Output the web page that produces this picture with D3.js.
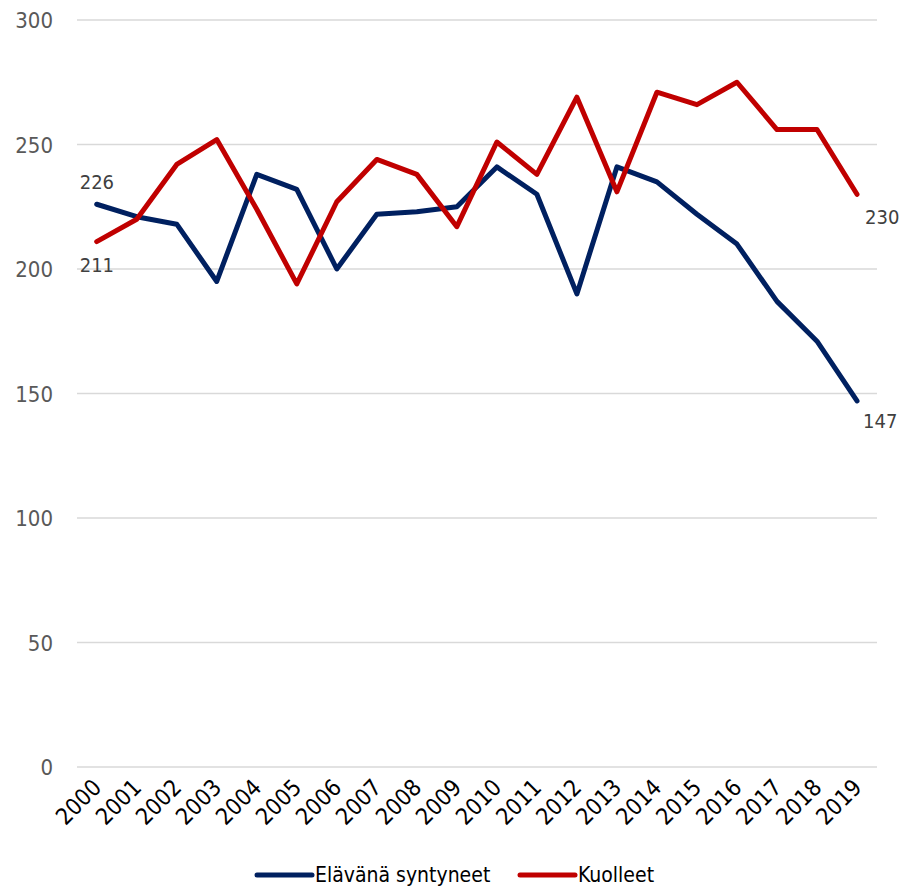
<!DOCTYPE html>
<html>
<head>
  <meta charset="UTF-8">
  <style>
    body { margin: 0; background: #fff; }
    svg text { font-family: "DejaVu Sans Condensed", "DejaVu Sans", sans-serif; }
  </style>
</head>
<body>
<svg></svg>
<script src="https://d3js.org/d3.v7.min.js"></script>
<script>
let width = 912, height = 886;

// data
let years = ["2000","2001","2002","2003","2004","2005","2006","2007","2008","2009",
             "2010","2011","2012","2013","2014","2015","2016","2017","2018","2019"];
let births = [226, 221, 218, 195, 238, 232, 200, 222, 223, 225,
              241, 230, 190, 241, 235, 222, 210, 187, 171, 147];
let deaths = [211, 220, 242, 252, 224, 194, 227, 244, 238, 217,
              251, 238, 269, 231, 271, 266, 275, 256, 256, 230];
let yTicks = [0, 50, 100, 150, 200, 250, 300];
let seriesNames = ["Elävänä syntyneet", "Kuolleet"];
let seriesColors = ["#002060", "#C00000"];

let svg = d3.select("svg")
    .attr("width", width)
    .attr("height", height);

let x = d3.scalePoint().domain(years).range([96.7, 857]);
let y = d3.scaleLinear().domain([0, 300]).range([767, 20]);

// gridlines
svg.append("g")
    .selectAll("line")
    .data(yTicks)
    .enter()
    .append("line")
    .attr("x1", 77).attr("x2", 877)
    .attr("y1", d => y(d)).attr("y2", d => y(d))
    .attr("stroke", "#d9d9d9")
    .attr("stroke-width", 1.5);

// y labels
svg.append("g")
    .selectAll("text")
    .data(yTicks)
    .enter()
    .append("text")
    .attr("x", 53)
    .attr("y", d => y(d) + 8)
    .attr("text-anchor", "end")
    .attr("fill", "#595959")
    .style("font-size", "22px")
    .text(d => d);

// x labels, rotated
svg.append("g")
    .selectAll("text")
    .data(years)
    .enter()
    .append("text")
    .attr("text-anchor", "end")
    .attr("transform", d => "translate(" + (x(d) + 6) + ",789) rotate(-45)")
    .attr("fill", "#000")
    .style("font-size", "23px")
    .text(d => d);

// lines
let line = d3.line()
    .x((d, i) => x(years[i]))
    .y(d => y(d));

[births, deaths].forEach((s, k) => {
    svg.append("path")
        .datum(s)
        .attr("fill", "none")
        .attr("stroke", seriesColors[k])
        .attr("stroke-width", 5)
        .attr("stroke-linejoin", "round")
        .attr("stroke-linecap", "round")
        .attr("d", line);
});

// data labels (first and last)
let n = years.length - 1;
let labels = [
    {v: births[0], i: 0, dx: -17, dy: -15},
    {v: deaths[0], i: 0, dx: -17, dy: 30},
    {v: deaths[n], i: n, dx: 8, dy: 30},
    {v: births[n], i: n, dx: 6, dy: 27}
];
svg.append("g")
    .selectAll("text")
    .data(labels)
    .enter()
    .append("text")
    .attr("x", d => x(years[d.i]) + d.dx)
    .attr("y", d => y(d.v) + d.dy)
    .attr("fill", "#404040")
    .style("font-size", "20px")
    .text(d => d.v);

// legend
let legendX = [257, 520];
seriesNames.forEach((name, k) => {
    svg.append("line")
        .attr("x1", legendX[k]).attr("x2", legendX[k] + 55)
        .attr("y1", 875).attr("y2", 875)
        .attr("stroke", seriesColors[k])
        .attr("stroke-width", 5)
        .attr("stroke-linecap", "round");
    svg.append("text")
        .attr("x", legendX[k] + 58)
        .attr("y", 882)
        .attr("fill", "#000")
        .style("font-size", "21px")
        .text(name);
});
</script>
</body>
</html>
